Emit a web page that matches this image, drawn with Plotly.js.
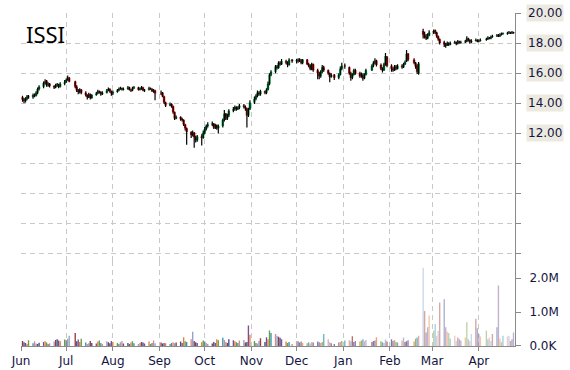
<!DOCTYPE html>
<html><head><meta charset="utf-8">
<script src="https://cdn.plot.ly/plotly-3.0.1.min.js"></script>
<style>html,body{margin:0;padding:0;background:#fff;}#chart{width:570px;height:370px;}</style>
</head><body><div id="chart"></div>
<script>
const ticker = "ISSI";
const dates = [
"2014-06-02","2014-06-03","2014-06-04","2014-06-05","2014-06-06","2014-06-09","2014-06-10","2014-06-11","2014-06-12","2014-06-13","2014-06-16","2014-06-17","2014-06-18","2014-06-19","2014-06-20","2014-06-23","2014-06-24","2014-06-25","2014-06-26","2014-06-27","2014-06-30",
"2014-07-01","2014-07-02","2014-07-03","2014-07-07","2014-07-08","2014-07-09","2014-07-10","2014-07-11","2014-07-14","2014-07-15","2014-07-16","2014-07-17","2014-07-18","2014-07-21","2014-07-22","2014-07-23","2014-07-24","2014-07-25","2014-07-28","2014-07-29","2014-07-30","2014-07-31",
"2014-08-01","2014-08-04","2014-08-05","2014-08-06","2014-08-07","2014-08-08","2014-08-11","2014-08-12","2014-08-13","2014-08-14","2014-08-15","2014-08-18","2014-08-19","2014-08-20","2014-08-21","2014-08-22","2014-08-25","2014-08-26","2014-08-27","2014-08-28","2014-08-29",
"2014-09-02","2014-09-03","2014-09-04","2014-09-05","2014-09-08","2014-09-09","2014-09-10","2014-09-11","2014-09-12","2014-09-15","2014-09-16","2014-09-17","2014-09-18","2014-09-19","2014-09-22","2014-09-23","2014-09-24","2014-09-25","2014-09-26","2014-09-29","2014-09-30",
"2014-10-01","2014-10-02","2014-10-03","2014-10-06","2014-10-07","2014-10-08","2014-10-09","2014-10-10","2014-10-13","2014-10-14","2014-10-15","2014-10-16","2014-10-17","2014-10-20","2014-10-21","2014-10-22","2014-10-23","2014-10-24","2014-10-27","2014-10-28","2014-10-29","2014-10-30","2014-10-31",
"2014-11-03","2014-11-04","2014-11-05","2014-11-06","2014-11-07","2014-11-10","2014-11-11","2014-11-12","2014-11-13","2014-11-14","2014-11-17","2014-11-18","2014-11-19","2014-11-20","2014-11-21","2014-11-24","2014-11-25","2014-11-26","2014-11-28",
"2014-12-01","2014-12-02","2014-12-03","2014-12-04","2014-12-05","2014-12-08","2014-12-09","2014-12-10","2014-12-11","2014-12-12","2014-12-15","2014-12-16","2014-12-17","2014-12-18","2014-12-19","2014-12-22","2014-12-23","2014-12-24","2014-12-26","2014-12-29","2014-12-30","2014-12-31",
"2015-01-02","2015-01-05","2015-01-06","2015-01-07","2015-01-08","2015-01-09","2015-01-12","2015-01-13","2015-01-14","2015-01-15","2015-01-16","2015-01-20","2015-01-21","2015-01-22","2015-01-23","2015-01-26","2015-01-27","2015-01-28","2015-01-29","2015-01-30",
"2015-02-02","2015-02-03","2015-02-04","2015-02-05","2015-02-06","2015-02-09","2015-02-10","2015-02-11","2015-02-12","2015-02-13","2015-02-17","2015-02-18","2015-02-19","2015-02-20","2015-02-23","2015-02-24","2015-02-25","2015-02-26","2015-02-27",
"2015-03-02","2015-03-03","2015-03-04","2015-03-05","2015-03-06","2015-03-09","2015-03-10","2015-03-11","2015-03-12","2015-03-13","2015-03-16","2015-03-17","2015-03-18","2015-03-19","2015-03-20","2015-03-23","2015-03-24","2015-03-25","2015-03-26","2015-03-27","2015-03-30","2015-03-31",
"2015-04-01","2015-04-02","2015-04-06","2015-04-07","2015-04-08","2015-04-09","2015-04-10","2015-04-13","2015-04-14","2015-04-15","2015-04-16","2015-04-17","2015-04-20","2015-04-21","2015-04-22","2015-04-23","2015-04-24"
];
const openP = [
14.40,14.25,14.15,14.30,14.45,14.40,14.55,14.50,14.70,14.95,15.10,15.35,15.50,15.20,15.30,15.15,15.05,15.20,15.25,15.10,15.30,
15.40,15.55,15.70,15.45,15.10,14.85,14.75,14.90,14.70,14.55,14.40,14.60,14.35,14.55,14.65,14.80,14.75,14.60,14.70,14.85,14.95,14.80,
14.65,14.75,14.85,14.95,15.00,14.90,14.95,15.05,14.90,14.85,15.00,15.05,14.90,14.95,15.05,14.85,14.90,15.00,14.95,14.80,14.85,
14.65,14.70,14.45,14.05,13.85,13.95,13.80,13.40,13.00,13.10,12.95,12.90,12.60,12.35,12.10,11.90,12.05,11.75,11.55,11.80,11.70,
12.05,12.30,12.50,12.60,12.65,12.40,12.55,12.35,12.50,12.90,13.30,13.00,13.20,13.50,13.60,13.75,13.60,13.70,13.85,13.75,13.65,13.20,13.60,
14.05,14.30,14.50,14.70,14.60,14.80,14.70,14.90,15.30,15.90,16.10,16.45,16.35,16.70,16.60,16.80,16.70,16.55,16.90,
16.80,16.80,16.90,16.85,16.70,16.90,16.60,16.50,16.30,16.60,16.20,16.00,15.80,16.10,16.40,16.20,16.00,15.75,15.90,15.70,15.90,16.30,
16.50,16.40,16.00,15.70,15.90,16.20,16.00,15.80,15.90,15.65,15.90,16.20,16.50,16.70,16.85,16.55,16.30,16.20,16.60,17.10,
16.50,16.30,16.20,16.45,16.30,16.50,16.40,16.60,16.80,17.30,16.90,16.70,16.50,16.00,18.80,18.55,18.40,18.30,18.50,
18.70,18.85,18.70,18.45,18.25,18.05,17.90,17.85,18.00,17.90,18.00,18.05,17.95,18.10,18.00,18.05,18.10,18.30,18.20,18.05,18.15,18.20,
18.10,18.15,18.20,18.25,18.35,18.30,18.40,18.45,18.50,18.45,18.55,18.60,18.60,18.65,18.70,18.65,18.72
];
const highP = [
14.50,14.35,14.40,14.55,14.55,14.65,14.65,14.80,15.05,15.20,15.45,15.60,15.55,15.40,15.35,15.20,15.30,15.35,15.30,15.40,15.55,
15.65,15.85,15.75,15.50,15.20,14.95,15.00,14.95,14.80,14.60,14.70,14.65,14.60,14.75,14.90,14.85,14.80,14.80,14.95,15.05,15.00,14.85,
14.85,14.95,15.05,15.10,15.05,15.05,15.15,15.10,14.95,15.10,15.15,15.10,15.05,15.15,15.10,14.95,15.10,15.05,15.00,14.95,14.90,
14.85,14.75,14.50,14.10,14.05,14.00,13.85,13.45,13.20,13.15,13.05,12.95,12.65,12.40,12.15,12.20,12.10,11.85,11.90,11.95,12.20,
12.45,12.60,12.75,12.80,12.70,12.65,12.60,12.60,13.00,13.55,13.35,13.30,13.60,13.75,13.85,13.80,13.80,13.95,13.95,13.85,13.70,13.70,14.20,
14.45,14.60,14.85,14.80,14.90,14.85,15.00,15.45,16.00,16.20,16.55,16.55,16.80,16.80,16.95,16.90,16.80,17.00,16.95,
16.95,17.00,17.00,16.95,16.95,16.95,16.70,16.60,16.70,16.65,16.30,16.10,16.20,16.55,16.50,16.25,16.05,16.00,15.95,16.00,16.45,16.70,
16.65,16.45,16.10,16.00,16.30,16.30,16.10,16.05,16.00,16.00,16.30,16.60,16.80,17.00,16.90,16.65,16.40,16.70,17.35,17.15,
16.60,16.40,16.55,16.55,16.60,16.60,16.70,16.85,17.55,17.35,17.00,16.75,16.60,16.75,18.95,18.75,18.60,18.65,18.85,
18.90,18.90,18.75,18.50,18.30,18.15,18.00,18.10,18.05,18.10,18.15,18.10,18.20,18.15,18.15,18.20,18.45,18.35,18.25,18.25,18.30,18.25,
18.25,18.30,18.35,18.45,18.40,18.50,18.55,18.60,18.60,18.65,18.70,18.70,18.75,18.80,18.75,18.80,18.75
];
const lowP = [
14.10,14.00,14.05,14.20,14.30,14.30,14.40,14.45,14.60,14.85,15.00,15.25,15.10,15.10,15.05,14.95,15.00,15.10,15.00,15.05,15.20,
15.35,15.50,15.40,15.00,14.75,14.60,14.65,14.60,14.45,14.25,14.35,14.25,14.30,14.50,14.60,14.65,14.50,14.55,14.65,14.80,14.70,14.50,
14.55,14.70,14.80,14.90,14.85,14.85,14.90,14.85,14.75,14.80,14.95,14.85,14.85,14.90,14.80,14.75,14.85,14.90,14.75,14.70,14.20,
14.55,14.40,13.95,13.75,13.80,13.70,13.30,12.90,12.95,12.85,12.80,12.50,12.20,11.25,11.70,11.80,11.05,11.40,11.45,11.20,11.65,
11.95,12.20,12.40,12.50,12.30,12.30,12.25,12.00,12.40,12.80,12.90,12.90,13.10,13.40,13.50,13.50,13.55,13.60,13.65,13.50,12.40,13.10,13.55,
13.95,14.20,14.40,14.50,14.50,14.60,14.60,14.85,15.20,15.80,16.00,16.25,16.30,16.50,16.55,16.60,16.40,16.50,16.70,
16.65,16.70,16.75,16.60,16.60,16.55,16.40,16.20,16.20,16.10,15.60,15.60,15.70,16.00,16.10,15.90,15.40,15.70,15.55,15.60,15.85,16.20,
16.30,15.90,15.50,15.60,15.85,15.90,15.70,15.70,15.50,15.60,15.85,16.15,16.40,16.60,16.45,16.20,16.05,16.15,16.50,16.40,
16.10,16.10,16.15,16.20,16.25,16.30,16.35,16.55,16.75,16.80,16.60,16.30,15.95,15.90,18.30,18.30,18.20,18.25,18.45,
18.60,18.60,18.35,18.15,17.90,17.75,17.70,17.80,17.80,17.85,17.95,17.85,17.90,17.95,17.95,18.00,18.05,18.10,17.95,18.00,18.10,18.05,
18.05,18.10,18.15,18.20,18.25,18.25,18.35,18.40,18.40,18.40,18.50,18.55,18.55,18.60,18.60,18.60,18.62
];
const closeP = [
14.25,14.15,14.30,14.45,14.40,14.55,14.50,14.70,14.95,15.10,15.35,15.45,15.20,15.30,15.15,15.05,15.20,15.25,15.10,15.30,15.40,
15.55,15.70,15.45,15.10,14.85,14.75,14.90,14.70,14.55,14.40,14.60,14.35,14.55,14.65,14.80,14.75,14.60,14.70,14.85,14.95,14.80,14.65,
14.75,14.85,14.95,15.00,14.90,14.95,15.05,14.90,14.85,15.00,15.05,14.90,14.95,15.05,14.85,14.90,15.00,14.95,14.80,14.85,14.65,
14.70,14.45,14.05,13.85,13.95,13.80,13.40,13.00,13.10,12.95,12.90,12.60,12.35,12.10,11.90,12.05,11.75,11.55,11.80,11.70,12.05,
12.30,12.50,12.60,12.65,12.40,12.55,12.35,12.50,12.90,13.30,13.00,13.20,13.50,13.60,13.75,13.60,13.70,13.85,13.75,13.65,13.20,13.60,14.05,
14.30,14.50,14.70,14.60,14.80,14.70,14.90,15.30,15.90,16.10,16.45,16.35,16.70,16.60,16.80,16.70,16.55,16.90,16.80,
16.80,16.90,16.85,16.70,16.90,16.60,16.50,16.30,16.60,16.20,16.00,15.80,16.10,16.40,16.20,16.00,15.75,15.90,15.70,15.90,16.30,16.50,
16.45,16.00,15.70,15.90,16.20,16.00,15.80,15.90,15.65,15.90,16.20,16.50,16.70,16.85,16.55,16.30,16.20,16.60,17.15,16.50,
16.30,16.20,16.45,16.30,16.50,16.40,16.60,16.75,17.30,16.90,16.70,16.45,16.10,16.65,18.55,18.40,18.30,18.50,18.70,
18.80,18.70,18.45,18.25,18.00,17.90,17.80,18.00,17.90,18.00,18.05,17.95,18.10,18.00,18.05,18.10,18.30,18.20,18.05,18.15,18.20,18.10,
18.15,18.20,18.25,18.35,18.30,18.40,18.45,18.50,18.45,18.55,18.60,18.60,18.65,18.70,18.65,18.70,18.68
];
// volume, thousands of shares
const volumeK = [
150,110,90,60,170,80,140,70,60,95,120,140,100,60,80,130,180,200,160,140,190,
170,210,300,380,140,190,120,210,100,60,80,150,90,70,130,160,90,60,140,110,80,150,
120,90,60,110,150,70,90,60,100,140,80,60,90,120,100,70,130,60,90,160,80,
100,70,90,80,60,90,110,80,100,130,90,260,140,120,200,420,150,110,90,110,160,
130,90,60,70,120,90,200,170,240,180,120,90,200,170,140,110,90,160,180,100,120,600,330,
150,90,70,150,230,120,260,200,460,380,350,300,270,240,200,130,90,120,60,
150,140,100,130,90,80,110,70,120,100,130,110,90,120,350,200,110,80,60,100,120,150,
160,170,140,290,120,150,130,160,200,140,180,120,150,160,260,140,110,90,190,130,
200,150,180,120,100,160,250,120,140,170,130,210,250,300,2300,1030,400,550,900,
450,650,300,450,1280,1380,550,420,380,220,300,150,250,200,160,250,700,200,150,350,800,520,
350,280,450,200,250,150,350,550,1780,220,120,300,280,300,150,200,400
];
const priceLabels = [12, 14, 16, 18, 20];
const priceGrid = [4, 6, 8, 10, 12, 14, 16, 18, 20];
const volTicks = [0, 1000, 2000];
const volTickText = ["0.0K", "1.0M", "2.0M"];

const UP = "#00b050", DOWN = "#ff1010";
const DAY = 86400000;
const navy = "#141442";
const gridCol = "#c9c9c9";
const axCol = "#8a8a8a";
const volPalette = ["#9b3b36", "#3d4f8f", "#7a4f9a", "#e67e3a", "#6f9a3f", "#3596b0", "#d98b8b", "#8fa3cf"];

const bodyBase = openP.map((o, i) => Math.min(o, closeP[i]));
const bodyLen = openP.map((o, i) => Math.max(Math.abs(closeP[i] - o), 0.06));
const bodyCol = openP.map((o, i) => closeP[i] >= o ? UP : DOWN);
const volCol = dates.map((d, i) => volPalette[i % volPalette.length]);
const volOp = dates.map(d => d < "2014-12-01" ? 1 : (d < "2015-02-21" ? 0.72 : 0.45));

const traces = [
  {type: "ohlc", x: dates, open: openP, high: highP, low: lowP, close: closeP,
   xaxis: "x", yaxis: "y", tickwidth: 0, hoverinfo: "skip",
   increasing: {line: {color: "#000", width: 1.2}}, decreasing: {line: {color: "#000", width: 1.2}}},
  {type: "bar", x: dates, base: bodyBase, y: bodyLen, width: 1.6 * DAY,
   xaxis: "x", yaxis: "y", marker: {color: bodyCol, line: {width: 0}}, hoverinfo: "skip"},
  {type: "bar", x: dates, y: volumeK, width: 0.9 * DAY, xaxis: "x", yaxis: "y2",
   marker: {color: volCol, opacity: volOp, line: {width: 0}}, hoverinfo: "skip"}
];

const annotations = [{
  text: ticker, xref: "paper", yref: "paper", x: 0, y: 1, xanchor: "left", yanchor: "top",
  xshift: 3, yshift: -4, showarrow: false,
  font: {family: "Noto Sans", size: 22, color: "#000"}
}].concat(priceLabels.map(v => ({
  text: v.toFixed(2), xref: "paper", yref: "y", x: 1, y: v, xanchor: "left", yanchor: "middle",
  xshift: 11, showarrow: false, bgcolor: "#eceae0", borderpad: 1,
  font: {family: "DejaVu Sans", size: 12, color: navy}
})));

const layout = {
  width: 570, height: 370,
  margin: {l: 21, r: 55, t: 13, b: 24, pad: 0},
  paper_bgcolor: "#fff", plot_bgcolor: "#fff",
  showlegend: false, hovermode: false, barmode: "overlay",
  xaxis: {
    type: "date", range: ["2014-06-01", "2015-04-25"], anchor: "y2",
    tick0: "2014-06-01", dtick: "M1", tickformat: "%b",
    showgrid: true, gridcolor: gridCol, griddash: "5px,4px", gridwidth: 1,
    showline: true, linecolor: axCol, linewidth: 1,
    ticks: "outside", ticklen: 4, tickcolor: axCol,
    tickfont: {family: "DejaVu Sans", size: 12, color: navy},
    rangeslider: {visible: false}, zeroline: false, fixedrange: true
  },
  yaxis: {
    domain: [0.254, 1], range: [3.5, 20], side: "right", anchor: "x",
    tickmode: "array", tickvals: priceGrid, showticklabels: false,
    showgrid: true, gridcolor: gridCol, griddash: "5px,4px", gridwidth: 1,
    showline: true, linecolor: axCol, linewidth: 1,
    ticks: "outside", ticklen: 5, tickcolor: axCol, zeroline: false, fixedrange: true
  },
  yaxis2: {
    domain: [0, 0.254], range: [0, 2490], side: "right", anchor: "x",
    tickmode: "array", tickvals: volTicks, ticktext: volTickText,
    showgrid: false, showline: true, linecolor: axCol, linewidth: 1,
    ticks: "outside", ticklen: 5, tickcolor: axCol, ticklabelstandoff: 6,
    tickfont: {family: "DejaVu Sans", size: 12, color: navy}, zeroline: false, fixedrange: true
  },
  annotations: annotations
};

Plotly.newPlot("chart", traces, layout, {staticPlot: true, displayModeBar: false});
</script>
</body></html>
